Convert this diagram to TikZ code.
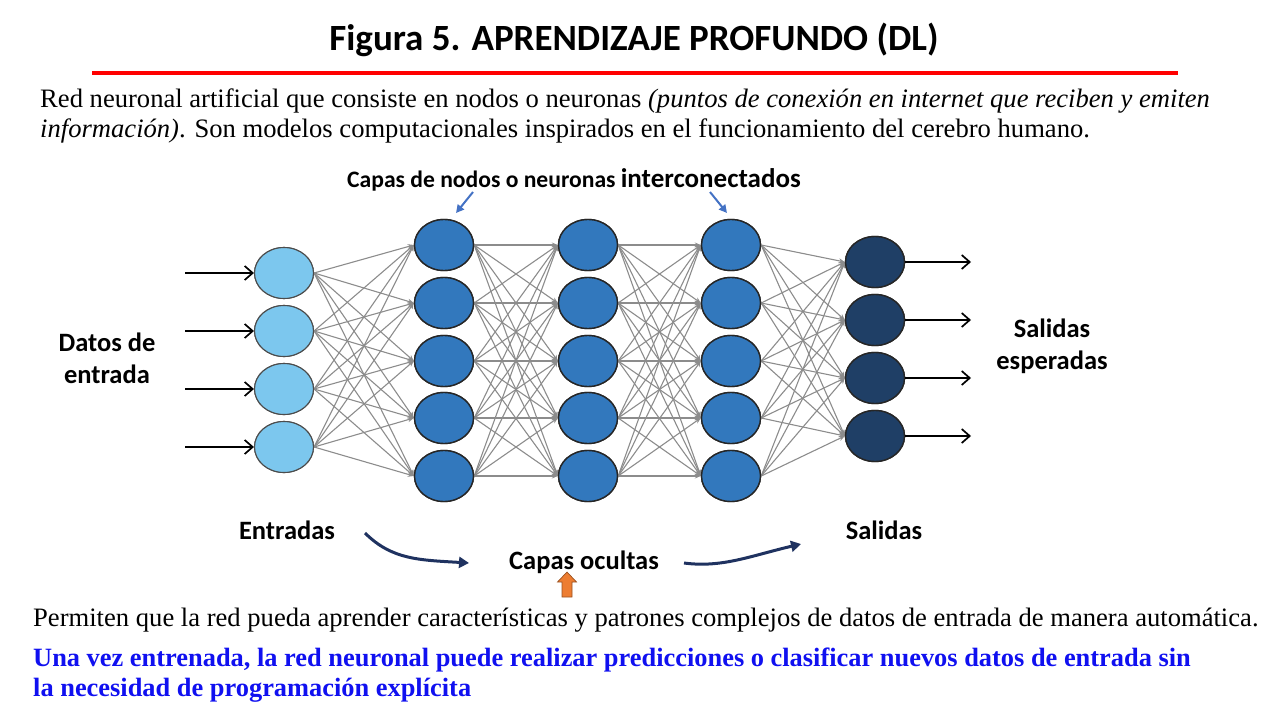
\documentclass[tikz,border=0pt]{standalone}
\usepackage{fontspec}
\setmainfont{Liberation Serif}
\newfontfamily\calfont{Carlito}
\usetikzlibrary{shapes.geometric,arrows.meta}
\definecolor{inblue}{HTML}{7CC7EE}
\definecolor{hidblue}{HTML}{3278BD}
\definecolor{outblue}{HTML}{1F3F66}
\definecolor{navyarr}{HTML}{1F3260}
\definecolor{ptrblue}{HTML}{4472C4}
\definecolor{txtblue}{HTML}{1010F0}
\definecolor{orangearr}{HTML}{ED7D31}
\begin{document}
\begin{tikzpicture}[x=1pt,y=-1pt,
  neuron/.style={ellipse, draw=black!85, line width=1.4pt, minimum width=59pt, minimum height=51pt, inner sep=0pt},
  inneuron/.style={neuron, fill=inblue, draw=black!70, line width=1.1pt},
  hidneuron/.style={neuron, fill=hidblue},
  outneuron/.style={neuron, fill=outblue},
  conn/.style={draw=black!45, line width=1.1pt, -{Stealth[length=6pt,width=5pt]}},
  ioarrow/.style={draw=black, line width=1.7pt, -{Straight Barb[length=8pt,width=14pt]}},
  lbl/.style={font=\calfont\bfseries\fontsize{26.5}{32}\selectfont, align=center},
  curvearr/.style={draw=navyarr, line width=3pt, -{Triangle[length=10pt,width=11pt]}},
  ptr/.style={draw=ptrblue, line width=2pt, -{Triangle[length=8pt,width=8pt]}}
]
\useasboundingbox (0,0) rectangle (1280,720);

% title
\node[font=\calfont\bfseries\fontsize{37}{42}\selectfont] (title) at (634,40) {Figura 5. APRENDIZAJE PROFUNDO (DL)};
\draw[draw=red, line width=4.5pt] (92,73) -- (1178,73);

% paragraph
\node[anchor=west, inner sep=0pt, font=\fontsize{26.6}{30}\selectfont] (p1) at (40,101) {Red neuronal artificial que consiste en nodos o neuronas \textit{(puntos de conexión en internet que reciben y emiten}};
\node[anchor=west, inner sep=0pt, font=\fontsize{26.6}{30}\selectfont] (p2) at (40,131) {\textit{información)}. Son modelos computacionales inspirados en el funcionamiento del cerebro humano.};

% layers
\foreach \j/\y in {1/273,2/331,3/389,4/447} \node[inneuron] (i\j) at (284,\y) {};
\foreach \j/\y in {1/245,2/303,3/361,4/418,5/476} {
  \node[hidneuron] (a\j) at (444,\y) {};
  \node[hidneuron] (b\j) at (588,\y) {};
  \node[hidneuron] (c\j) at (731,\y) {};
}
\foreach \j/\y in {1/262,2/320,3/378,4/436} \node[outneuron] (o\j) at (875,\y) {};

% connections
\foreach \s in {1,...,4} \foreach \t in {1,...,5} \draw[conn] (i\s.east) -- (a\t.west);
\foreach \s in {1,...,5} \foreach \t in {1,...,5} {
  \draw[conn] (a\s.east) -- (b\t.west);
  \draw[conn] (b\s.east) -- (c\t.west);
}
\foreach \s in {1,...,5} \foreach \t in {1,...,4} \draw[conn] (c\s.east) -- (o\t.west);

% redraw nodes on top
\foreach \j/\y in {1/273,2/331,3/389,4/447} \node[inneuron] at (284,\y) {};
\foreach \j/\y in {1/245,2/303,3/361,4/418,5/476} {
  \node[hidneuron] at (444,\y) {};
  \node[hidneuron] at (588,\y) {};
  \node[hidneuron] at (731,\y) {};
}
\foreach \j/\y in {1/262,2/320,3/378,4/436} \node[outneuron] at (875,\y) {};

% input / output arrows
\foreach \j/\y in {1/273,2/331,3/389,4/447} {
  \coordinate (is\j) at (185,\y);
  \draw[ioarrow] (is\j) -- (i\j.west);
}
\foreach \j/\y in {1/262,2/320,3/378,4/436} {
  \coordinate (oe\j) at (971,\y);
  \draw[ioarrow] (o\j.east) -- (oe\j);
}

% labels
\node[font=\calfont\bfseries\fontsize{23.6}{28}\selectfont, anchor=base west, inner sep=0pt] (capas) at (347,187) {Capas de nodos o neuronas {\fontsize{27}{31}\selectfont interconectados}};
\coordinate (pa1) at (473,192); \coordinate (pa2) at (456,213);
\coordinate (pb1) at (710,192); \coordinate (pb2) at (727,213);
\draw[ptr] (pa1) -- (pa2);
\draw[ptr] (pb1) -- (pb2);

\node[lbl] (datos) at (107,358) {Datos de\\entrada};
\node[lbl] (salesp) at (1052,346) {Salidas\\esperadas};
\node[lbl] (entr) at (287,530) {Entradas};
\node[lbl] (sal) at (884,530) {Salidas};
\node[lbl] (ocul) at (584,562) {Capas ocultas};

\coordinate (ca1) at (365,533); \coordinate (ca2) at (469,563);
\draw[curvearr] (ca1) .. controls (392,560) and (420,560) .. (ca2);
\coordinate (cb1) at (684,563); \coordinate (cb2) at (801,544);
\draw[curvearr] (cb1) .. controls (722,568) and (750,556) .. (cb2);

% orange up arrow
\draw[fill=orangearr, draw=orangearr!65!black, line width=0.7pt, line join=miter]
  (562,597) -- (562,582) -- (557.5,582) -- (567,572) -- (576.5,582) -- (572,582) -- (572,597) -- cycle;

% bottom texts
\node[anchor=west, inner sep=0pt, font=\fontsize{26.6}{30}\selectfont] (b1) at (33,620) {Permiten que la red pueda aprender características y patrones complejos de datos de entrada de manera automática.};
\node[anchor=west, inner sep=0pt, font=\bfseries\fontsize{26.4}{30}\selectfont, text=txtblue] (b2) at (33,660) {Una vez entrenada, la red neuronal puede realizar predicciones o clasificar nuevos datos de entrada sin};
\node[anchor=west, inner sep=0pt, font=\bfseries\fontsize{26.4}{30}\selectfont, text=txtblue] (b3) at (33,690) {la necesidad de programación explícita};
\end{tikzpicture}
\end{document}
